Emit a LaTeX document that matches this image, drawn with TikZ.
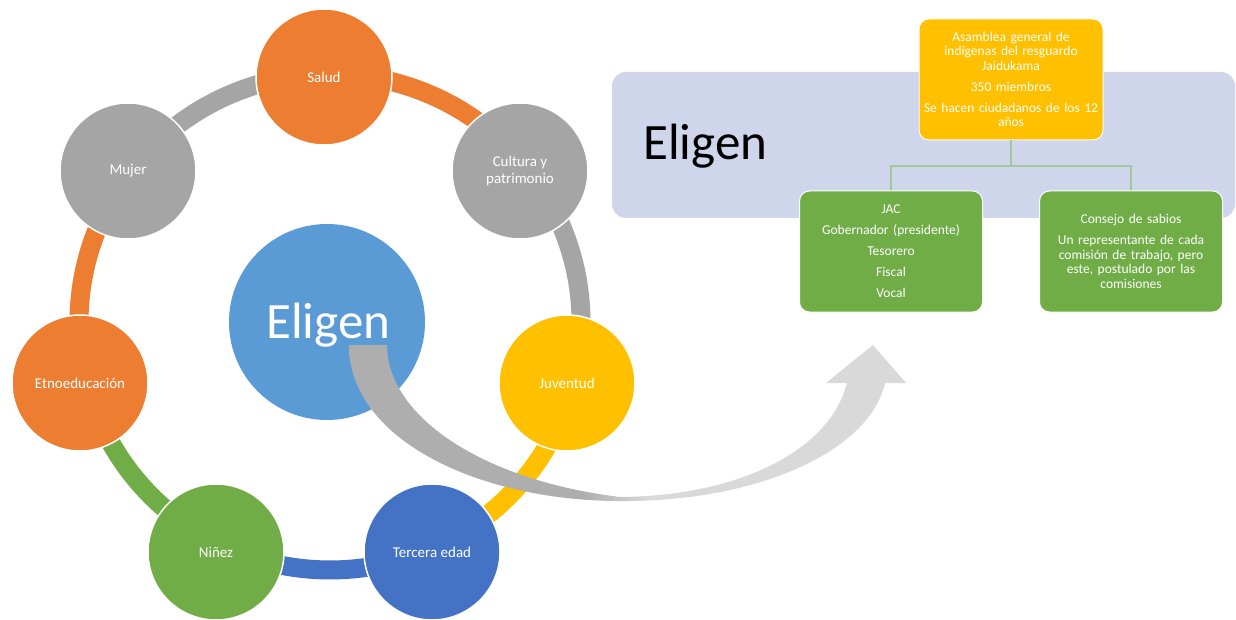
\documentclass[tikz,border=0pt]{standalone}
\usepackage{fontspec}
\setmainfont{Carlito}
\definecolor{cOrange}{HTML}{ED7D31}
\definecolor{cGray}{HTML}{A5A5A5}
\definecolor{cYellow}{HTML}{FFC000}
\definecolor{cBlue}{HTML}{4472C4}
\definecolor{cGreen}{HTML}{70AD47}
\definecolor{cLightBlue}{HTML}{5B9BD5}
\definecolor{cLavender}{HTML}{CFD5EA}
\definecolor{cLink}{HTML}{A3C99A}
\definecolor{arrowdark}{HTML}{AEAEAE}
\definecolor{arrowlight}{HTML}{D9D9D9}
\pgfdeclarehorizontalshading{arrowshade}{100bp}{color(0bp)=(arrowdark); color(46bp)=(arrowdark); color(52bp)=(arrowlight); color(100bp)=(arrowlight)}
\tikzset{
  bub/.style={circle, minimum size=136pt, inner sep=0pt, draw=white, line width=1.5pt,
    text=white, align=center, font=\fontsize{15}{17}\selectfont},
  ringarc/.style={line width=19pt},
  orgbox/.style={rectangle, rounded corners=10pt, draw=white, line width=1pt,
    text=white, align=center, inner sep=0pt, font=\fontsize{13.5}{14.5}\selectfont},
  link/.style={draw=cLink, line width=1.6pt}
}
\begin{document}
\begin{tikzpicture}[x=1pt, y=-1pt]
\useasboundingbox (0,0) rectangle (1236,620);
\fill[white] (0,0) rectangle (1236,620);

% ring arcs (ellipse centre 330,322)
\def\RX{251}\def\RY{248}
\draw[ringarc, cOrange] ([shift={(-91.4:\RX\space and \RY)}]330,322) arc[start angle=-91.4, end angle=-38.5, x radius=\RX, y radius=\RY];
\draw[ringarc, cGray] ([shift={(-38.5:\RX\space and \RY)}]330,322) arc[start angle=-38.5, end angle=14.4, x radius=\RX, y radius=\RY];
\draw[ringarc, cYellow] ([shift={(14.4:\RX\space and \RY)}]330,322) arc[start angle=14.4, end angle=66.1, x radius=\RX, y radius=\RY];
\draw[ringarc, cBlue] ([shift={(66.1:\RX\space and \RY)}]330,322) arc[start angle=66.1, end angle=116.4, x radius=\RX, y radius=\RY];
\draw[ringarc, cGreen] ([shift={(116.4:\RX\space and \RY)}]330,322) arc[start angle=116.4, end angle=166.3, x radius=\RX, y radius=\RY];
\draw[ringarc, cOrange] ([shift={(166.3:\RX\space and \RY)}]330,322) arc[start angle=166.3, end angle=216.8, x radius=\RX, y radius=\RY];
\draw[ringarc, cGray] ([shift={(216.8:\RX\space and \RY)}]330,322) arc[start angle=216.8, end angle=268.6, x radius=\RX, y radius=\RY];

% cycle nodes
\node[bub, fill=cOrange] (salud) at (324,77) {Salud};
\node[bub, fill=cGray] (cultura) at (520,171) {Cultura y\\patrimonio};
\node[bub, fill=cYellow] (juventud) at (567,383) {Juventud};
\node[bub, fill=cBlue] (tercera) at (432,552) {Tercera edad};
\node[bub, fill=cGreen] (ninez) at (216,552) {Niñez};
\node[bub, fill=cOrange] (etno) at (80,383) {Etnoeducación};
\node[bub, fill=cGray] (mujer) at (128,171) {Mujer};

% centre
\node[circle, fill=cLightBlue, minimum size=196pt, inner sep=0pt] (centre) at (327,322) {};
\node[anchor=base west, inner sep=0pt, text=white, font=\fontsize{51}{55}\selectfont] (centretxt) at (266,338) {Eligen};

% curved arrow
\shade[shading=arrowshade]
 (349,345) .. controls (349,440) and (480,501) .. (620,501)
 .. controls (760,502) and (870,450) .. (885,383)
 -- (906,383) -- (873,345) -- (826,383) -- (847,383)
 .. controls (830,450) and (740,496) .. (620,497)
 .. controls (480,480) and (387,415) .. (387,345) -- cycle;

% right panel
\fill[cLavender, rounded corners=14pt] (612,72) rectangle (1235,218);
\node[anchor=base west, inner sep=0pt, text=black, font=\fontsize{51}{55}\selectfont] (eligen2) at (643,160) {Eligen};

\node[orgbox, fill=cYellow, minimum width=184pt, minimum height=121pt, text width=180pt] (asamblea) at (1011,79.5)
 {Asamblea general de\\indígenas del resguardo\\Jaidukama\\[6.5pt]350 miembros\\[6.5pt]Se hacen ciudadanos de los 12\\años};
\node[orgbox, fill=cGreen, minimum width=183pt, minimum height=121pt, text width=180pt] (jac) at (891,251.5)
 {JAC\\[6.5pt]Gobernador (presidente)\\[6.5pt]Tesorero\\[6.5pt]Fiscal\\[6.5pt]Vocal};
\node[orgbox, fill=cGreen, minimum width=183pt, minimum height=121pt, text width=180pt] (consejo) at (1131,251.5)
 {Consejo de sabios\\[6.5pt]Un representante de cada\\comisión de trabajo, pero\\este, postulado por las\\comisiones};

\draw[link] (asamblea.south) -- ++(0,25.5) -| (jac.north);
\draw[link] (asamblea.south) -- ++(0,25.5) -| (consejo.north);
\end{tikzpicture}
\end{document}
